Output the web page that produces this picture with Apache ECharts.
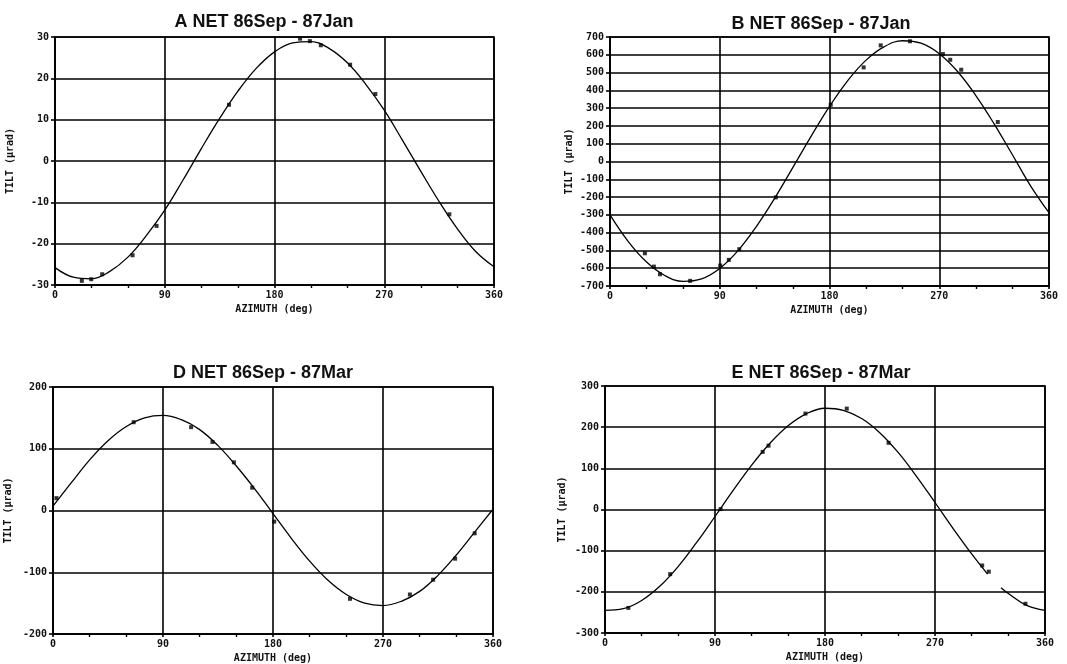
<!doctype html>
<html lang="en">
<head>
    <meta charset="UTF-8">
    <title>NET tilt vs azimuth</title>
    <style>
        html, body { margin: 0; padding: 0; background: #fff; }
        #main { width: 1067px; height: 664px; }
    </style>
</head>
<body>
<div id="main"></div>
<script src="https://cdn.jsdelivr.net/npm/echarts/dist/echarts.min.js"></script>
<script type="text/javascript">
    // panel titles
    var titles = ['A NET 86Sep - 87Jan', 'B NET 86Sep - 87Jan', 'D NET 86Sep - 87Mar', 'E NET 86Sep - 87Mar'];
    var xTicks = [0, 90, 180, 270, 360];

    // fitted curves, every 15 deg
    var azimuthCurve = [0,15,30,45,60,75,90,105,120,135,150,165,180,195,210,225,240,255,270,285,300,315,330,345,360];
    var curveA = [-25.8,-28.1,-28.5,-26.7,-23.2,-18.0,-11.9,-4.6,3.0,10.3,16.9,22.4,26.4,28.6,28.9,27.2,23.7,18.5,12.3,5.0,-2.5,-9.8,-16.4,-21.9,-25.6];
    var curveB = [-300,-450,-565,-641,-674,-660,-601,-501,-366,-207,-33,143,310,455,570,646,679,665,606,506,371,212,38,-138,-288];
    var curveD = [7,45,82,113,136,150,154,147,131,105,72,35,-5,-45,-82,-113,-136,-150,-154,-147,-131,-105,-72,-35,2];
    // E curve has a break after the 313 deg point
    var azimuthCurveE = [0,15,30,45,60,75,90,105,120,135,150,165,180,195,210,225,240,255,270,285,300,313,318,324,330,345,360];
    var curveE = [-245,-241,-221,-186,-138,-80,-17,47,108,161,204,233,246,241,221,186,138,80,17,-47,-108,-157,null,-190,-204,-233,-245];

    // measured points
    var ptsAzA = [22,29.7,38.7,63.6,83.3,142.7,201,209,218,242,262.7,323.4];
    var ptsA = [-29.0,-28.6,-27.4,-22.8,-15.7,13.6,29.6,29.0,28.0,23.3,16.2,-12.9];
    var ptsAzB = [28.6,36,41,65.7,90.4,97.4,106,136,181,208,222,246,273,279,288,318];
    var ptsB = [-516,-591,-634,-671,-585,-553,-493,-202,319,529,653,676,604,572,516,222];
    var ptsAzD = [2.8,66,113,130.5,148,163,181,243,292,311,329,345];
    var ptsD = [20,143,135,111,78,37,-18,-143,-136,-112,-78,-37];
    var ptsAzE = [19.1,53.3,94.6,129,133.8,164,197.8,232,308.6,314,344];
    var ptsE = [-239,-157,1,140,155,233,245,162,-136,-151,-229];

    // y ranges [min, max, step]
    var yRanges = [[-30, 30, 10], [-700, 700, 100], [-200, 200, 100], [-300, 300, 100]];

    var panels = [
        {left: 55, top: 37, width: 439, height: 248, tx: 259, ty: 8, nameGap: 40},
        {left: 610, top: 37, width: 439, height: 249, tx: 816, ty: 10, nameGap: 36},
        {left: 53, top: 387, width: 440, height: 247, tx: 258, ty: 359, nameGap: 40},
        {left: 605, top: 386, width: 440, height: 247, tx: 816, ty: 359, nameGap: 38}
    ];

    function pairs(xs, ys) {
        var out = [];
        for (var i = 0; i < xs.length; i++) {
            out.push([xs[i], ys[i]]);
        }
        return out;
    }

    var curves = [pairs(azimuthCurve, curveA), pairs(azimuthCurve, curveB), pairs(azimuthCurve, curveD), pairs(azimuthCurveE, curveE)];
    var points = [pairs(ptsAzA, ptsA), pairs(ptsAzB, ptsB), pairs(ptsAzD, ptsD), pairs(ptsAzE, ptsE)];

    var monoFont = '"DejaVu Sans Mono", "Liberation Mono", monospace';
    var lineStyle = {color: '#000', width: 1.6};

    var option = {
        backgroundColor: '#fff',
        animation: false,
        title: [],
        grid: [],
        xAxis: [],
        yAxis: [],
        series: []
    };

    for (var i = 0; i < 4; i++) {
        var p = panels[i];
        option.title.push({
            text: titles[i],
            left: p.tx,
            top: p.ty,
            textAlign: 'center',
            textStyle: {fontFamily: '"Liberation Sans", Arial, sans-serif', fontSize: 18, fontWeight: 'bold', color: '#111'}
        });
        option.grid.push({left: p.left, top: p.top, width: p.width, height: p.height, show: true, borderColor: '#000', borderWidth: 1.6});
        option.xAxis.push({
            gridIndex: i,
            type: 'value',
            min: 0,
            max: 360,
            interval: 90,
            name: 'AZIMUTH (deg)',
            nameLocation: 'middle',
            nameGap: 19,
            nameTextStyle: {fontFamily: monoFont, fontSize: 10, fontWeight: 'bold', color: '#111'},
            axisLine: {onZero: false, lineStyle: lineStyle},
            axisTick: {show: true, length: 3, lineStyle: lineStyle},
            minorTick: {show: true, splitNumber: 3, length: 3, lineStyle: {color: '#000', width: 1.4}},
            axisLabel: {
                fontFamily: monoFont, fontSize: 10, fontWeight: 'bold', color: '#111', margin: 5,
                customValues: xTicks
            },
            splitLine: {show: true, lineStyle: lineStyle}
        });
        option.yAxis.push({
            gridIndex: i,
            type: 'value',
            min: yRanges[i][0],
            max: yRanges[i][1],
            interval: yRanges[i][2],
            name: 'TILT (µrad)',
            nameLocation: 'middle',
            nameGap: p.nameGap,
            nameRotate: 90,
            nameTextStyle: {fontFamily: monoFont, fontSize: 10, fontWeight: 'bold', color: '#111'},
            axisLine: {onZero: false, lineStyle: lineStyle},
            axisTick: {show: true, length: 4, lineStyle: lineStyle},
            axisLabel: {fontFamily: monoFont, fontSize: 10, fontWeight: 'bold', color: '#111', margin: 6},
            splitLine: {show: true, lineStyle: lineStyle}
        });
        option.series.push({
            type: 'line',
            xAxisIndex: i,
            yAxisIndex: i,
            data: curves[i],
            smooth: 0.4,
            connectNulls: false,
            showSymbol: false,
            lineStyle: {color: '#000', width: 1.3}
        });
        option.series.push({
            type: 'scatter',
            xAxisIndex: i,
            yAxisIndex: i,
            data: points[i],
            symbol: 'rect',
            symbolSize: 4,
            itemStyle: {color: '#000'}
        });
    }

    var myChart = echarts.init(document.getElementById('main'));
    myChart.setOption(option);
</script>
</body>
</html>
